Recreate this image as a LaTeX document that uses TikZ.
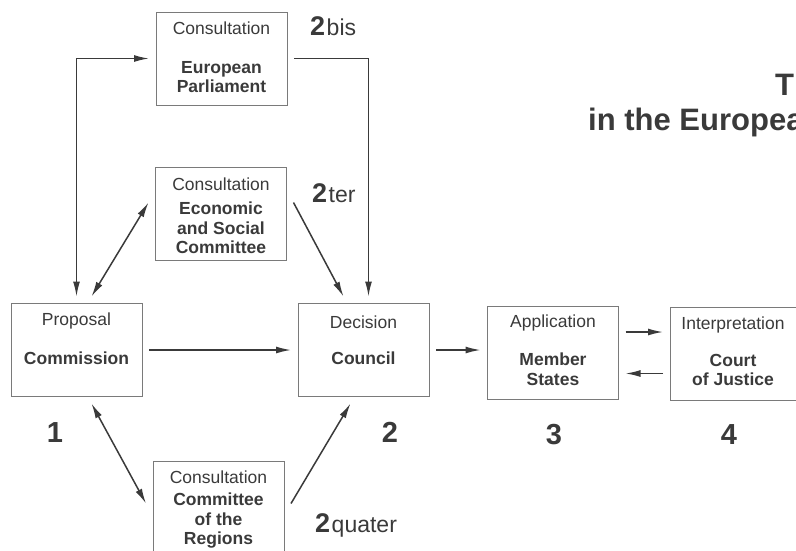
\documentclass[tikz,border=0pt]{standalone}
\usepackage{fontspec}
\setmainfont{Liberation Sans}
\usetikzlibrary{arrows.meta}
\definecolor{ink}{HTML}{3A3A3A}
\definecolor{frame}{HTML}{7A7A7A}
\begin{document}
\begin{tikzpicture}[x=1pt,y=-1pt,
  box/.style={draw=frame, line width=1pt, minimum width=131pt, minimum height=93pt, inner sep=0pt, outer sep=7pt},
  role/.style={text=ink, font=\fontsize{17.5}{20}\selectfont},
  organ/.style={text=ink, align=center, font=\bfseries\fontsize{17.5}{19.5}\selectfont},
  stage/.style={text=ink, inner sep=0pt, font=\bfseries\fontsize{29}{30}\selectfont},
  substage/.style={stage, anchor=base west, font=\bfseries\fontsize{27}{28}\selectfont},
  headline/.style={text=ink, inner sep=0pt, anchor=base west, font=\bfseries\fontsize{31}{34}\selectfont},
  flow/.style={draw=ink, line width=1.5pt, -{Latex[length=15pt,width=7pt]}},
  twoway/.style={flow, {Latex[length=15pt,width=7pt]}-{Latex[length=15pt,width=7pt]}}]
\useasboundingbox (0,0) rectangle (796,550);
\clip (0,0) rectangle (796,550);

\node[box](ep) at (221.5,58.5) {};
\node[box](esc) at (221,213.5) {};
\node[box](com) at (76.5,350) {};
\node[box](cou) at (363.5,350) {};
\node[box](ms) at (553,353) {};
\node[box](cj) at (735.5,353.5) {};
\node[box](cor) at (218.5,507.5) {};

\node[role](epr) at (221.5,28) {Consultation};
\node[organ](epn) at (221.5,77) {European\\Parliament};
\node[role](escr) at (221,184) {Consultation};
\node[organ](escn) at (221,228) {Economic\\and Social\\Committee};
\node[role](comr) at (76.5,321) {Proposal};
\node[organ](comn) at (76.5,358) {Commission};
\node[role](cour) at (363.5,322) {Decision};
\node[organ](coun) at (363.5,358) {Council};
\node[role](msr) at (553,323) {Application};
\node[organ](msn) at (553,369) {Member\\States};
\node[role](cjr) at (733,325) {Interpretation};
\node[organ](cjn) at (733,370) {Court\\of Justice};
\node[role](corr) at (218.5,477) {Consultation};
\node[organ](corn) at (218.5,521) {Committee\\of the\\Regions};

\node[substage](s2b) at (310,35) {2\kern1.5pt{\mdseries\fontsize{23}{24}\selectfont bis}};
\node[substage](s2t) at (312,202) {2\kern1.5pt{\mdseries\fontsize{23}{24}\selectfont ter}};
\node[substage](s2q) at (315,532) {2\kern1.5pt{\mdseries\fontsize{23}{24}\selectfont quater}};
\node[stage, anchor=base](s1) at (55,442) {1};
\node[stage, anchor=base](s2) at (390,442) {2};
\node[stage, anchor=base](s3) at (554,444) {3};
\node[stage, anchor=base](s4) at (729,444) {4};

\node[headline](hd1) at (775,95) {T};
\node[headline](hd2) at (588,130) {in the Europea};

\draw[twoway] (com.north) |- (ep.west);
\draw[flow] (ep.east) -| ([xshift=5pt]cou.north);
\draw[twoway] ([xshift=15pt]com.north) -- ([yshift=11pt]esc.west);
\draw[flow] ([yshift=11pt]esc.east) -- ([xshift=-20pt]cou.north);
\draw[flow] (com.east) -- (cou.west);
\draw[twoway] ([xshift=15pt]com.south) -- ([yshift=4pt]cor.west);
\draw[flow] ([yshift=4pt]cor.east) -- ([xshift=-13pt]cou.south);
\draw[flow] (cou.east) -- (cou.east -| ms.west);
\draw[flow] ([yshift=21pt]ms.east) -- ([yshift=21pt]ms.east -| cj.west);
\draw[flow] ([yshift=-20pt]cj.west) -- ([yshift=-20pt]cj.west -| ms.east);
\end{tikzpicture}
\end{document}
